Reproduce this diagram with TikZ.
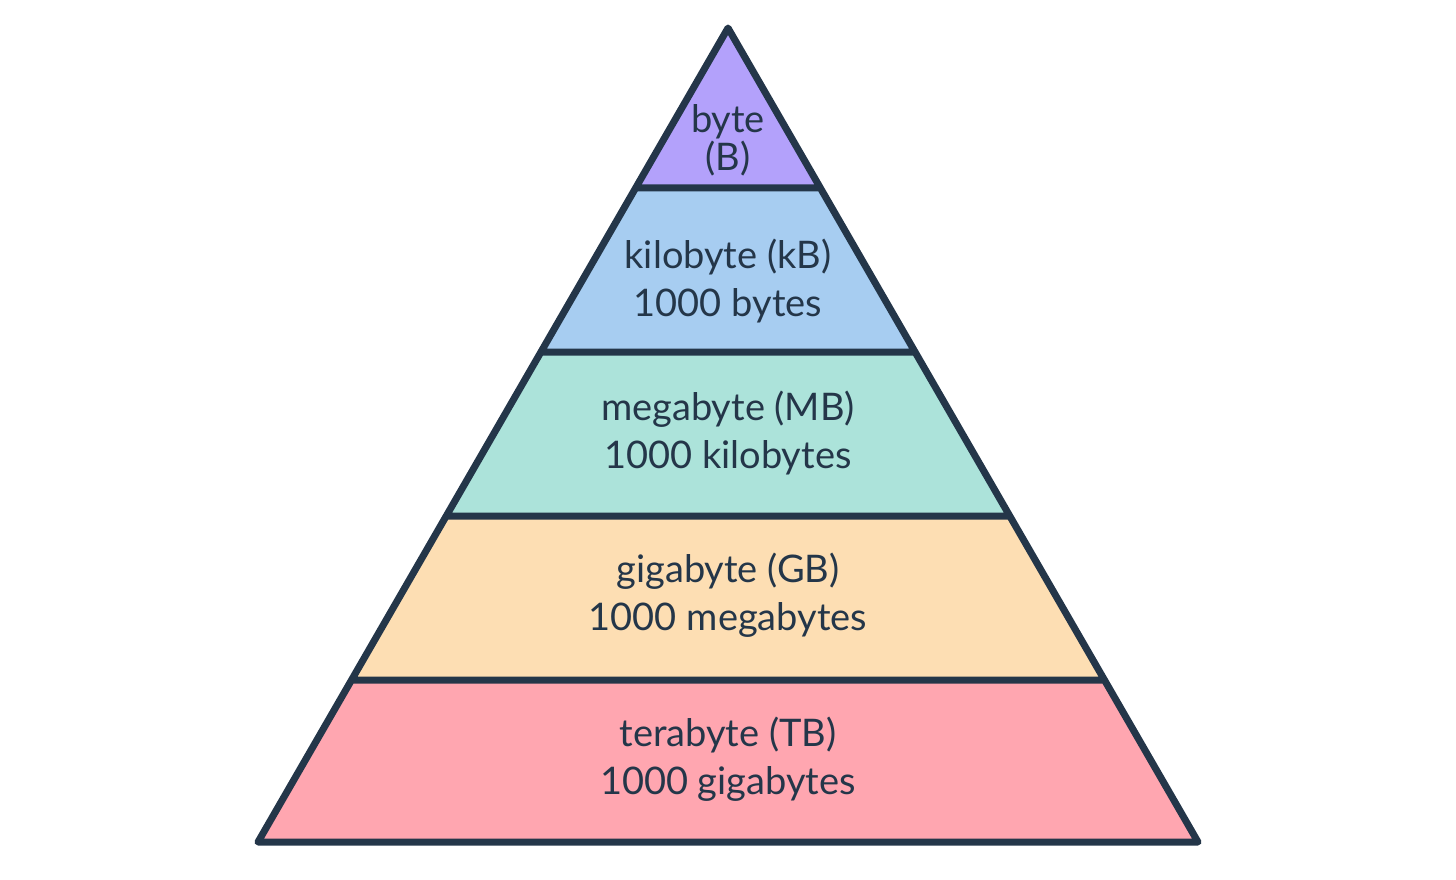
\documentclass[tikz,border=0pt]{standalone}
\usepackage{fontspec}
\setmainfont{Lato}
\usetikzlibrary{calc}
\definecolor{edge}{HTML}{243649}
\definecolor{fillB}{HTML}{B3A1FB}
\definecolor{fillKB}{HTML}{A7CDF1}
\definecolor{fillMB}{HTML}{ACE3DA}
\definecolor{fillGB}{HTML}{FDDEB3}
\definecolor{fillTB}{HTML}{FFA6B0}
\tikzset{
  layer/.style={draw=edge, line width=3.5pt},
  unit/.style={align=center, text=edge, font=\fontsize{19}{24}\selectfont}
}
\begin{document}
\begin{tikzpicture}[x=0.5pt, y=-0.5pt, line join=round, line cap=round]
	\useasboundingbox (0,0) rectangle (1456,879);
	\path (728,28) coordinate (T)
	(258,842) coordinate (L)
	(1198,842) coordinate (R);
	\foreach \n/\y in {a/188,b/352,c/516,d/680}{
		\path ($(T)!{(\y-28)/814}!(L)$) coordinate (\n L)
		($(T)!{(\y-28)/814}!(R)$) coordinate (\n R);
	}
	\fill[fillB] (T)--(aL)--(aR)--cycle;
	\fill[fillKB] (aL)--(bL)--(bR)--(aR)--cycle;
	\fill[fillMB] (bL)--(cL)--(cR)--(bR)--cycle;
	\fill[fillGB] (cL)--(dL)--(dR)--(cR)--cycle;
	\fill[fillTB] (dL)--(L)--(R)--(dR)--cycle;
	\draw[layer] (T)--(L)--(R)--cycle (aL)--(aR) (bL)--(bR) (cL)--(cR) (dL)--(dR);
	\node[unit, font=\fontsize{19}{19}\selectfont] (byte) at (728,140) {byte\\(B)};
	\node[unit] (kilo) at (728,281) {kilobyte (kB)\\1000 bytes};
	\node[unit] (mega) at (728,433) {megabyte (MB)\\1000 kilobytes};
	\node[unit] (giga) at (728,595) {gigabyte (GB)\\1000 megabytes};
	\node[unit] (tera) at (728,759) {terabyte (TB)\\1000 gigabytes};
\end{tikzpicture}
\end{document}
